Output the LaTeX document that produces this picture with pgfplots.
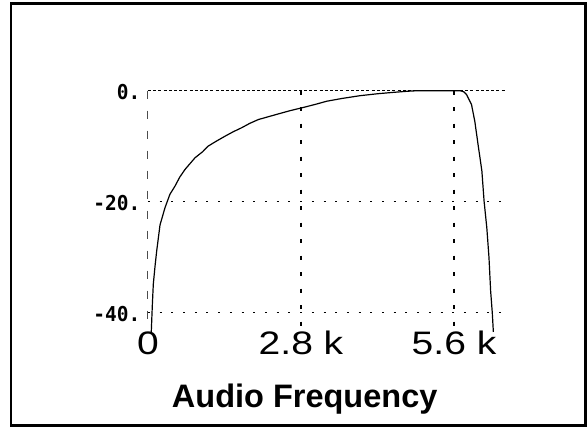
\documentclass[border=0pt]{standalone}
\usepackage{fontspec}
\setmainfont{Liberation Sans}
\newfontfamily\ticksf[FakeStretch=1.2]{Liberation Sans}
\newfontfamily\ymono[FakeStretch=0.95]{DejaVu Sans Mono}
\usepackage{pgfplots}
\pgfplotsset{compat=1.18}
\begin{document}
\begin{tikzpicture}
\useasboundingbox (-148pt,-100pt) rectangle (439pt,327pt);
\draw[line width=2.4pt] (-136.7pt,-98.5pt) rectangle (437.5pt,323.3pt);
\begin{axis}[
  at={(0pt,0pt)}, anchor=south west,
  scale only axis, width=357pt, height=236.3pt,
  xmin=0, xmax=6533, ymin=-42.6, ymax=0,
  clip=false,
  axis line style={draw=none},
  major tick length=0pt,
  xtick={0,2800,5600}, xticklabels={0,2.8 k,5.6 k},
  ytick={-40,-20,0}, yticklabels={-40.,-20.,0.},
  xticklabel style={font=\ticksf\fontsize{32.5}{32.5}\selectfont, anchor=base, inner sep=0pt, yshift=-28pt},
  yticklabel style={font=\ymono\bfseries\fontsize{20.5}{20.5}\selectfont, anchor=base east, inner sep=0pt, xshift=-7.5pt, yshift=-9pt},
  scaled x ticks=false,
]
% grid
\draw[line width=1.3pt, dash pattern=on 3pt off 2.2pt] (axis cs:0,0) -- (axis cs:6533,0);
\draw[line width=1.3pt, dash pattern=on 2pt off 9.7pt] (axis cs:0,-20) -- (axis cs:6533,-20);
\draw[line width=1.3pt, dash pattern=on 2pt off 9.7pt] (axis cs:0,-40) -- (axis cs:6533,-40);
\draw[line width=1.4pt, dash pattern=on 4pt off 12.5pt] (axis cs:2800,0) -- (axis cs:2800,-42.6);
\draw[line width=1.4pt, dash pattern=on 4pt off 12.5pt] (axis cs:5600,0) -- (axis cs:5600,-42.6);
\draw[line width=1pt, black!70, dash pattern=on 8pt off 12pt] (axis cs:0,0) -- (axis cs:0,-42.6);
\addplot[black, line width=1.2pt] coordinates {
(60,-43.5) (80,-38.5) (97,-34.9) (128,-31.7) (159,-28.9) (220,-24.2) (311,-21.1)
(400,-18.7) (494,-17.2) (580,-15.6) (677,-14.2) (860,-12.1) (1000,-11.0)
(1100,-10.0) (1250,-9.1) (1410,-8.2) (1560,-7.4) (1710,-6.7) (1860,-5.9)
(2020,-5.2) (2200,-4.7) (2380,-4.2) (2600,-3.6) (2810,-3.1) (3050,-2.5)
(3270,-1.9) (3550,-1.4) (3880,-0.9) (4200,-0.55) (4490,-0.3) (4750,-0.1)
(4940,0) (5710,0) (5780,-0.2) (5830,-0.7) (5920,-2.5) (5980,-5.5) (6040,-9.7)
(6110,-14.5) (6150,-19.9) (6200,-24.7) (6240,-30.1) (6270,-36.1) (6300,-40)
(6320,-43.5)
};
\end{axis}
\node[anchor=base, font=\bfseries\fontsize{32.5}{32.5}\selectfont, inner sep=0pt] at (156.7pt,-81pt) {Audio Frequency};
\end{tikzpicture}
\end{document}
